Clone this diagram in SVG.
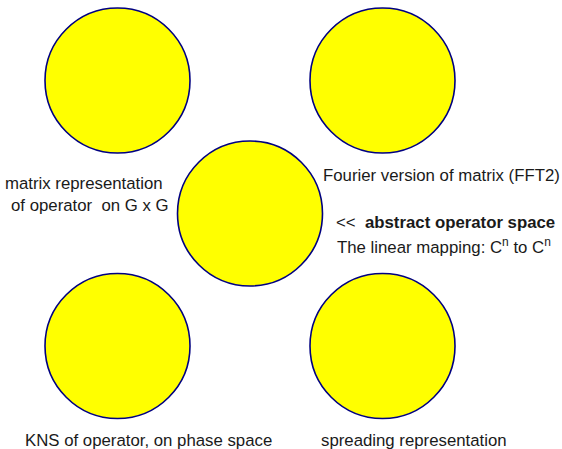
<svg xmlns="http://www.w3.org/2000/svg" width="562" height="449" viewBox="0 0 562 449">
<style>
.node{fill:#ffff00;stroke:#000080;stroke-width:1.6}
.t{font-family:"Liberation Sans",Arial,sans-serif;font-size:16.8px;fill:#1a1a1a;white-space:pre}
.b{font-weight:bold}
.sup{font-size:12px}
</style>
<rect width="562" height="449" fill="#ffffff"/>
<g id="connectors"></g>
<g id="n-matrix">
<circle class="node" cx="117.5" cy="80.5" r="72.5"/>
<text class="t" x="5" y="188.5">matrix representation</text>
<text class="t" x="11" y="211" xml:space="preserve">of operator  on G x G</text>
</g>
<g id="n-fourier">
<circle class="node" cx="382.5" cy="80.5" r="72.5"/>
<text class="t" x="323" y="181">Fourier version of matrix (FFT2)</text>
</g>
<g id="n-abstract">
<circle class="node" cx="250" cy="213.5" r="72.5"/>
<text class="t" x="336" y="228" xml:space="preserve">&lt;&lt;  <tspan class="b">abstract operator space</tspan></text>
<text class="t" x="337" y="253">The linear mapping: C<tspan class="sup" dy="-7.5">n</tspan><tspan dy="7.5"> to C</tspan><tspan class="sup" dy="-7.5">n</tspan></text>
</g>
<g id="n-kns">
<circle class="node" cx="117.5" cy="346" r="72.5"/>
<text class="t" x="25" y="446">KNS of operator, on phase space</text>
</g>
<g id="n-spreading">
<circle class="node" cx="382.5" cy="346" r="72.5"/>
<text class="t" x="321" y="446">spreading representation</text>
</g>
</svg>
